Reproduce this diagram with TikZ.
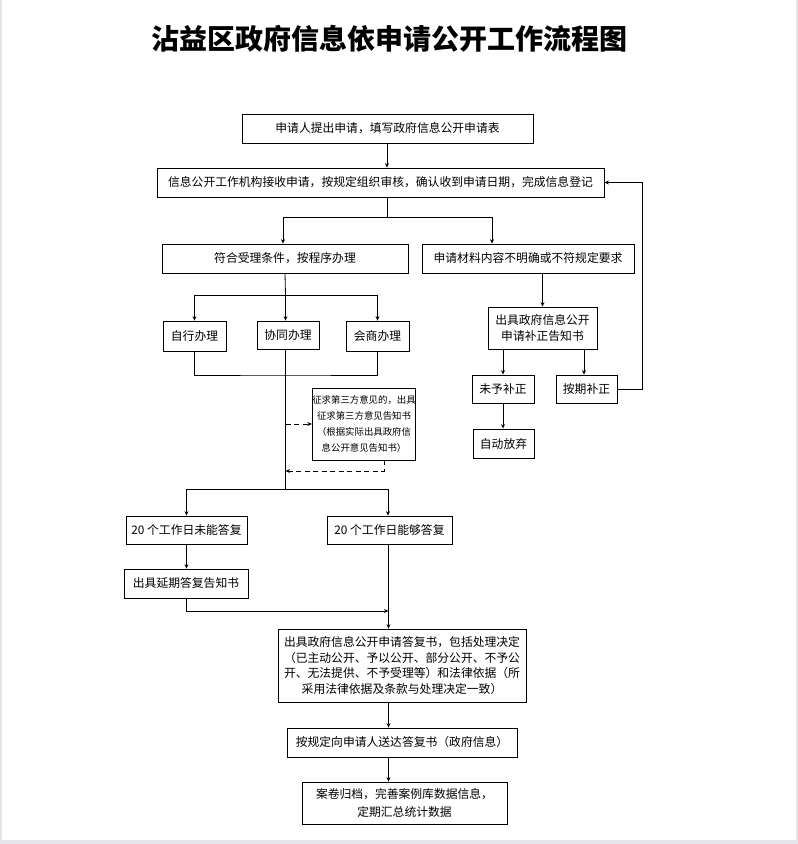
\documentclass[tikz,border=0pt]{standalone}
\usepackage{fontspec}
\setmainfont{Noto Sans CJK SC}
\usetikzlibrary{arrows.meta}
\definecolor{pageedge}{RGB}{228,228,234}
\tikzset{
  flowbox/.style={draw, line width=0.8pt, inner sep=0pt, align=center,
    font=\fontsize{11.8}{15.7}\selectfont},
  bsize/.style 2 args={minimum width=#1pt, minimum height=#2pt},
  flowline/.style={line width=0.8pt},
  flowarrow/.style={line width=0.8pt, -{Stealth[length=4.5pt,width=4pt]}},
  flowdash/.style={dash pattern=on 5pt off 3.5pt},
}

\begin{document}
\begin{tikzpicture}[x=1pt,y=-1pt]
      \useasboundingbox (0,0) rectangle (798,844);
      \fill[pageedge] (0,0) rectangle (798,844);
      \fill[white] (1.5,0) rectangle (796,840);
      \node[font=\fontsize{28}{30}\selectfont\bfseries] (title) at (389,39) {沾益区政府信息依申请公开工作流程图};
      % main column
      \node[flowbox, bsize={291}{29}] (apply) at (387.5,128.5) {申请人提出申请，填写政府信息公开申请表};
      \node[flowbox, bsize={447}{29}] (accept) at (380.5,182.5) {信息公开工作机构接收申请，按规定组织审核，确认收到申请日期，完成信息登记};
      \node[flowbox, bsize={246}{29}] (meet) at (285,258.5) {符合受理条件，按程序办理};
      \node[flowbox, bsize={212}{29}] (unclear) at (528,258.5) {申请材料内容不明确或不符规定要求};
      \node[flowbox, bsize={63}{30}] (self) at (194.5,336) {自行办理};
      \node[flowbox, bsize={62}{28}] (joint) at (288,335) {协同办理};
      \node[flowbox, bsize={63}{30}] (consult) at (377.5,336) {会商办理};
      \node[flowbox, bsize={96}{72}, font=\fontsize{9.4}{16}\selectfont] (third) at (364,424) {征求第三方意见的，出具\\征求第三方意见告知书\\（根据实际出具政府信\\息公开意见告知书）};
      % correction branch
      \node[flowbox, bsize={109}{42}] (notice) at (542.5,328) {出具政府信息公开\\申请补正告知书};
      \node[flowbox, bsize={62}{28}] (noreply) at (503,389) {未予补正};
      \node[flowbox, bsize={61}{28}] (ontime) at (586.5,389) {按期补正};
      \node[flowbox, bsize={61}{29}] (giveup) at (503.5,443.5) {自动放弃};
      % reply
      \node[flowbox, bsize={121}{28}] (d20no) at (186.5,530) {20 个工作日未能答复};
      \node[flowbox, bsize={125}{28}] (d20yes) at (389.5,530) {20 个工作日能够答复};
      \node[flowbox, bsize={124}{29}] (delay) at (186,583.5) {出具延期答复告知书};
      \node[flowbox, bsize={248}{73}] (reply) at (402,665.5) {出具政府信息公开申请答复书，包括处理决定\\（已主动公开、予以公开、部分公开、不予公\\开、无法提供、不予受理等）和法律依据（所\\采用法律依据及条款与处理决定一致）};
      \node[flowbox, bsize={230}{29}] (deliver) at (402,742.5) {按规定向申请人送达答复书（政府信息）};
      \node[flowbox, bsize={205}{42}, font=\fontsize{11.8}{17.3}\selectfont] (archive) at (404.5,803) {案卷归档，完善案例库数据信息，\\定期汇总统计数据};

      \coordinate (j1) at (387,217);
      \coordinate (j2) at (285.5,295);
      \coordinate (j3) at (285.5,375);
      \coordinate (j4) at (285.5,489);
      \coordinate (j5) at (388.5,611);
      \coordinate (r1) at (384,471);
      \coordinate (r2) at (642,389);

      \draw[flowarrow] (apply.south -| j1) -- (j1 |- accept.north);
      \draw[flowline] (j1 |- accept.south) -- (j1);
      \draw[flowarrow] (j1) -| ([xshift=-2pt]meet.north);
      \draw[flowarrow] (j1) -| ([xshift=-36pt]unclear.north);
      \draw[flowline] (meet.south) -- (j2);
      \draw[flowarrow] (j2) -| (self.north);
      \draw[flowarrow] (j2) -- (j2 |- joint.north);
      \draw[flowarrow] (j2) -| (consult.north);
      \draw[flowline] (self.south) |- (j3) -| (consult.south);
      \draw[flowline] (j2 |- joint.south) -- (j4);
      \draw[flowarrow, flowdash] (j4 |- third.west) -- (third.west);
      \draw[flowarrow, flowdash] (third.south -| r1) -- (r1) -- (r1 -| j4);
      \draw[flowarrow] (j4) -| (d20no.north);
      \draw[flowarrow] (j4) -| ([xshift=-1.5pt]d20yes.north);
      \draw[flowarrow] (d20no.south) -- (d20no.south |- delay.north);
      \draw[flowarrow] (delay.south) |- (j5);
      \draw[flowarrow] (j5 |- d20yes.south) -- (j5 |- reply.north);
      \draw[flowarrow] (j5 |- reply.south) -- (j5 |- deliver.north);
      \draw[flowarrow] (j5 |- deliver.south) -- (j5 |- archive.north);
      % correction
      \draw[flowarrow] (notice.north |- unclear.south) -- (notice.north);
      \draw[flowarrow] (noreply.north |- notice.south) -- (noreply.north);
      \draw[flowarrow] ([xshift=-2.5pt]ontime.north |- notice.south) -- ([xshift=-2.5pt]ontime.north);
      \draw[flowarrow] (noreply.south) -- (noreply.south |- giveup.north);
      \draw[flowarrow] (ontime.east) -- (r2) |- (accept.east);
      \end{tikzpicture}
\end{document}
